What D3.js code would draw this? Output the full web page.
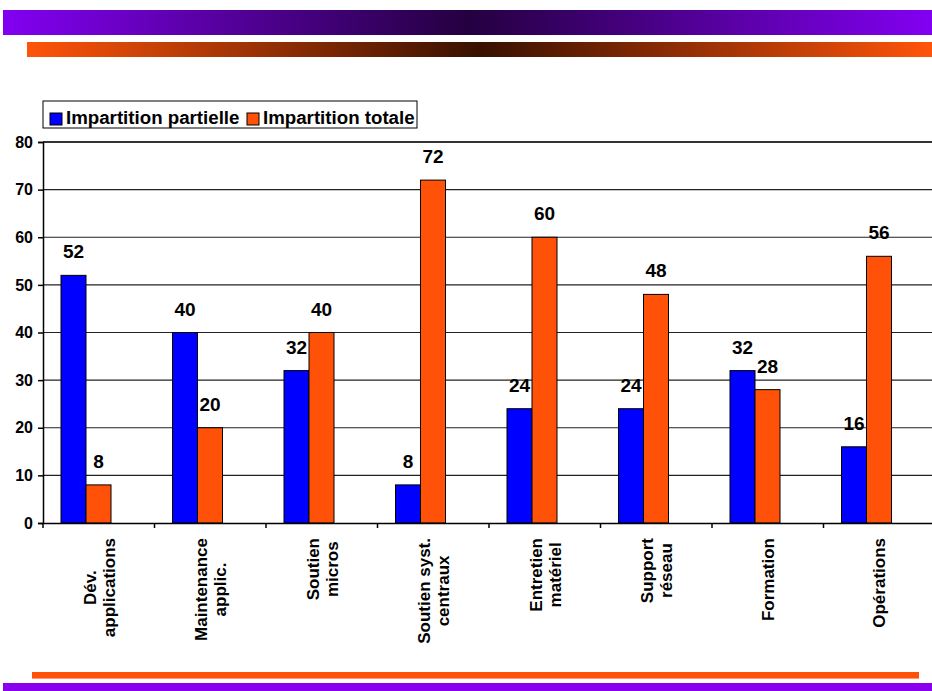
<!DOCTYPE html>
<html><head><meta charset="utf-8">
<script src="https://cdn.jsdelivr.net/npm/d3@7"></script>
<style>
html,body{margin:0;padding:0;background:#fff;}
svg{display:block;font-family:"Liberation Sans",Arial,sans-serif;font-weight:bold;}
</style></head>
<body>
<svg id="chart" width="932" height="691"></svg>
<script>
// ---- data ----
const categories = ["Dév.\napplications", "Maintenance\napplic.", "Soutien\nmicros", "Soutien syst.\ncentraux", "Entretien\nmatériel", "Support\nréseau", "Formation", "Opérations"];
const seriesNames = ["Impartition partielle", "Impartition totale"];
const partielle = [52, 40, 32, 8, 24, 24, 32, 16];
const totale = [8, 20, 40, 72, 60, 48, 28, 56];
const yTicks = [0, 10, 20, 30, 40, 50, 60, 70, 80];

const colors = ["#0000ff", "#ff5208"];
const seriesValues = [partielle, totale];

const svg = d3.select("#chart");
const defs = svg.append("defs");

// banner gradients
const gp = defs.append("linearGradient").attr("id", "gPurple").attr("x1", "0%").attr("x2", "100%");
gp.append("stop").attr("offset", "0%").attr("stop-color", "#8200f2");
gp.append("stop").attr("offset", "50%").attr("stop-color", "#240040");
gp.append("stop").attr("offset", "100%").attr("stop-color", "#8200f2");
const go = defs.append("linearGradient").attr("id", "gOrange").attr("x1", "0%").attr("x2", "100%");
go.append("stop").attr("offset", "0%").attr("stop-color", "#ff540a");
go.append("stop").attr("offset", "50%").attr("stop-color", "#381000");
go.append("stop").attr("offset", "100%").attr("stop-color", "#ff540a");

svg.append("rect").attr("x", 3).attr("y", 10).attr("width", 929).attr("height", 25).attr("fill", "url(#gPurple)");
svg.append("rect").attr("x", 27).attr("y", 42).attr("width", 905).attr("height", 15).attr("fill", "url(#gOrange)");
svg.append("rect").attr("x", 32).attr("y", 672).attr("width", 887).attr("height", 7).attr("fill", "#ff5208");
svg.append("rect").attr("x", 32).attr("y", 678).attr("width", 887).attr("height", 1).attr("fill", "#ff9a70");
svg.append("rect").attr("x", 3).attr("y", 683).attr("width", 929).attr("height", 8).attr("fill", "#8800ee");

// scales
const pLeft = 43, pRight = 935, pTop = 142, pBottom = 523;
const y = d3.scaleLinear().domain([0, 80]).range([pBottom, pTop]);
const x = d3.scaleBand().domain(categories).range([pLeft, pRight]).padding(0);
const xs = d3.scaleBand().domain(seriesNames).range([18, 68]).padding(0);

// gridlines
svg.append("g").selectAll("line").data(yTicks.filter(d => d > 0)).join("line")
  .attr("x1", pLeft).attr("x2", 932)
  .attr("y1", d => y(d)).attr("y2", d => y(d))
  .attr("stroke", d => d === 80 ? "#333" : "#222")
  .attr("stroke-width", d => d === 80 ? 2 : 1.2);

// bars
const groups = svg.append("g").selectAll("g").data(categories).join("g")
  .attr("transform", d => `translate(${x(d)},0)`);
seriesNames.forEach((s, si) => {
  groups.append("rect")
    .attr("x", xs(s)).attr("width", xs.bandwidth())
    .attr("y", (d, i) => y(seriesValues[si][i]))
    .attr("height", (d, i) => y(0) - y(seriesValues[si][i]))
    .attr("fill", colors[si]).attr("stroke", "#000").attr("stroke-width", 1);
  groups.append("text")
    .attr("x", xs(s) + xs.bandwidth() / 2)
    .attr("y", (d, i) => y(seriesValues[si][i]) - 17)
    .attr("text-anchor", "middle").attr("font-size", 19).attr("fill", "#000")
    .text((d, i) => seriesValues[si][i]);
});

// y axis
const yAxis = d3.axisLeft(y).tickValues(yTicks).tickSize(5).tickPadding(5);
const ya = svg.append("g").attr("transform", `translate(${pLeft},0)`).call(yAxis);
ya.select(".domain").attr("stroke", "#000").attr("stroke-width", 1.5);
ya.selectAll(".tick line").attr("stroke", "#000").attr("stroke-width", 1.5);
ya.selectAll(".tick text").attr("font-size", 16).attr("font-weight", "bold").attr("font-family", "Liberation Sans, Arial, sans-serif").attr("fill", "#000");

// x axis
const xAxis = d3.axisBottom(x).tickSize(0).tickFormat("");
const xa = svg.append("g").attr("transform", `translate(0,${pBottom})`).call(xAxis);
xa.select(".domain").attr("stroke", "#000").attr("stroke-width", 1.5);
xa.selectAll(".tick").remove();
svg.append("g").selectAll("line").data(categories).join("line")
  .attr("x1", d => x(d)).attr("x2", d => x(d))
  .attr("y1", pBottom).attr("y2", pBottom + 5)
  .attr("stroke", "#000").attr("stroke-width", 1.5);

// category labels (rotated)
categories.forEach(c => {
  const lines = c.split("\n");
  const cx = x(c) + x.bandwidth() / 2;
  const g = svg.append("g").attr("transform", `translate(${cx},538) rotate(-90)`);
  const texts = lines.map((l, i) => g.append("text")
    .attr("font-size", 17).attr("text-anchor", "middle").attr("fill", "#000")
    .attr("y", lines.length === 1 ? 6 : (i === 0 ? -3 : 16))
    .text(l));
  const maxW = d3.max(texts, t => t.node().getComputedTextLength());
  texts.forEach(t => t.attr("x", -maxW / 2));
});

// legend
const lg = svg.append("g");
lg.append("rect").attr("x", 43).attr("y", 101).attr("width", 374).attr("height", 27)
  .attr("fill", "#fff").attr("stroke", "#000").attr("stroke-width", 1);
const legendX = [50, 247];
seriesNames.forEach((s, i) => {
  lg.append("rect").attr("x", legendX[i]).attr("y", 113).attr("width", 12).attr("height", 12)
    .attr("fill", colors[i]).attr("stroke", "#000").attr("stroke-width", 1);
  lg.append("text").attr("x", legendX[i] + 16).attr("y", 124).attr("font-size", 18.7).attr("fill", "#000").text(s);
});
</script>
</body></html>
